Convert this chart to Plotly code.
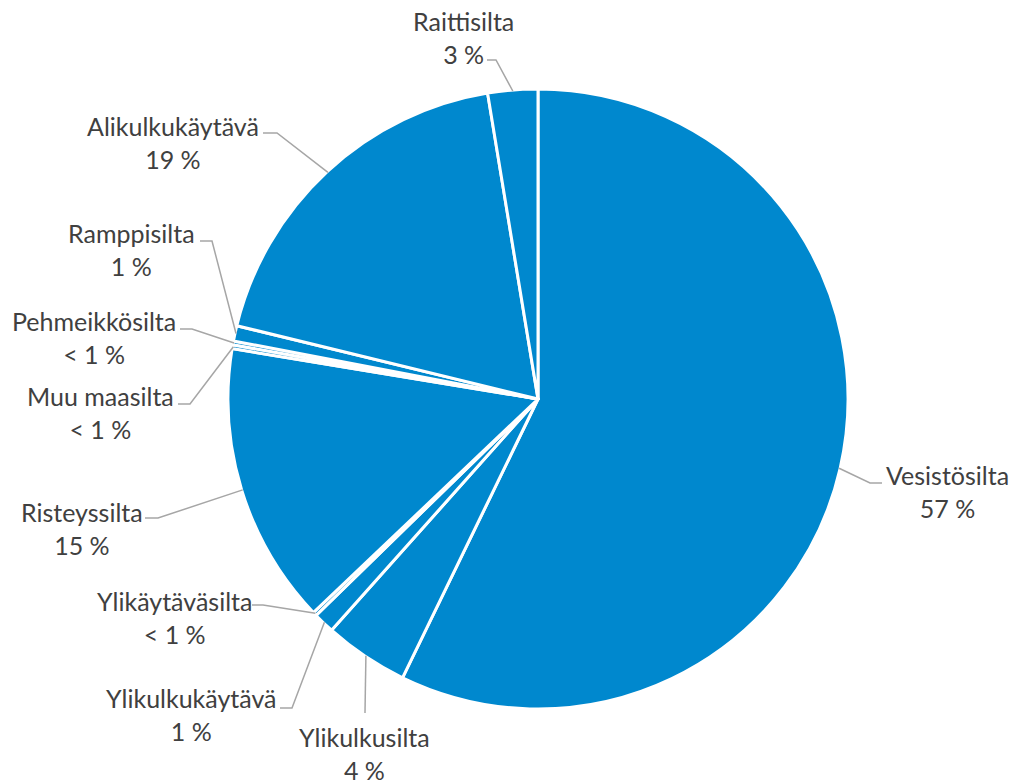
import math
import plotly.graph_objects as go

# Bridge types, clockwise from 12 o'clock, and their shares (%)
categories = [
    "Vesistösilta", "Ylikulkusilta", "Ylikulkukäytävä", "Ylikäytäväsilta",
    "Risteyssilta", "Muu maasilta", "Pehmeikkösilta", "Ramppisilta",
    "Alikulkukäytävä", "Raittisilta",
]
shares = [57.2, 4.4, 1.1, 0.2, 14.7, 0.2, 0.2, 0.8, 18.6, 2.6]

# Page geometry (pixels)
W, H = 1016, 783
CX, CY, R = 538, 399, 310

PIE_COLOR = "#0088CE"
TEXT_COLOR = "#404040"
LEADER_COLOR = "#A6A6A6"
FONT = "Lato"

# Label block centre and leader path (label end -> elbow) per category
label_layout = {
    "Vesistösilta":    dict(tx=947, ty=491, start=(882, 483), elbow=(870, 483)),
    "Ylikulkusilta":   dict(tx=364, ty=753, start=(365, 713), elbow=(365, 713)),
    "Ylikulkukäytävä": dict(tx=191, ty=714, start=(280, 708), elbow=(292, 708)),
    "Ylikäytäväsilta": dict(tx=174, ty=617, start=(252, 605), elbow=(263, 605)),
    "Risteyssilta":    dict(tx=82,  ty=528, start=(145, 518), elbow=(158, 518)),
    "Muu maasilta":    dict(tx=100, ty=412, start=(178, 404), elbow=(190, 404)),
    "Pehmeikkösilta":  dict(tx=94,  ty=337, start=(180, 329), elbow=(192, 329)),
    "Ramppisilta":     dict(tx=131, ty=249, start=(200, 241), elbow=(212, 241)),
    "Alikulkukäytävä": dict(tx=173, ty=142, start=(263, 133), elbow=(277, 133)),
    "Raittisilta":     dict(tx=463, ty=37,  start=(487, 60),  elbow=(496, 60)),
}


def pct_text(v):
    return "< 1 %" if v < 0.5 else f"{int(v + 0.5)} %"


fig = go.Figure()

fig.add_trace(go.Pie(
    labels=categories,
    values=shares,
    sort=False,
    direction="clockwise",
    rotation=0,
    textinfo="none",
    hoverinfo="label+percent",
    marker=dict(colors=[PIE_COLOR] * len(categories),
                line=dict(color="white", width=3)),
    domain=dict(x=[(CX - R) / W, (CX + R) / W],
                y=[(H - CY - R) / H, (H - CY + R) / H]),
    showlegend=False,
))

# Leader lines run from each slice's outer mid-point to its label
total = sum(shares)
shapes = []
annotations = []
cum = 0.0
for name, v in zip(categories, shares):
    mid = (cum + v / 2) / total * 2 * math.pi
    cum += v
    ex = CX + (R - 1) * math.sin(mid)
    ey = CY - (R - 1) * math.cos(mid)
    lay = label_layout[name]
    (sx, sy), (bx, by) = lay["start"], lay["elbow"]
    shapes.append(dict(
        type="path", xref="x", yref="y",
        path=f"M {sx},{sy} L {bx},{by} L {ex:.1f},{ey:.1f}",
        line=dict(color=LEADER_COLOR, width=1.5),
    ))
    annotations.append(dict(
        x=lay["tx"], y=lay["ty"], xref="x", yref="y",
        text=f"{name}<br>{pct_text(v)}",
        showarrow=False, align="center",
        xanchor="center", yanchor="middle",
        font=dict(family=FONT, size=25, color=TEXT_COLOR),
    ))

fig.update_layout(
    width=W, height=H,
    margin=dict(l=0, r=0, t=0, b=0),
    paper_bgcolor="white", plot_bgcolor="rgba(0,0,0,0)",
    xaxis=dict(range=[0, W], visible=False, fixedrange=True, domain=[0, 1]),
    yaxis=dict(range=[H, 0], visible=False, fixedrange=True, domain=[0, 1]),
    shapes=shapes,
    annotations=annotations,
)

fig.write_html("out.html")
